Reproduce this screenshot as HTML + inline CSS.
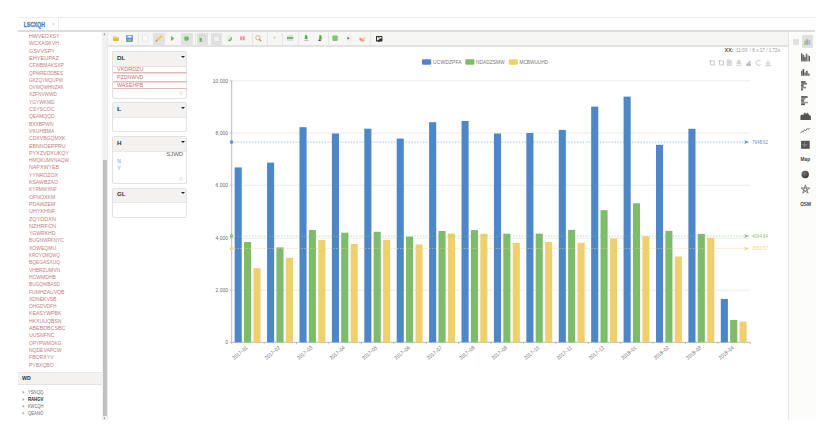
<!DOCTYPE html><html><head><meta charset="utf-8"><style>

*{margin:0;padding:0;box-sizing:border-box}
html,body{width:830px;height:431px;overflow:hidden;background:#fff;font-family:"Liberation Sans",sans-serif}
.a{position:absolute}
.pn{position:absolute;left:112px;width:75px;border:1px solid #e2e2e2;border-radius:2px;background:#fff}
.ph{position:absolute;left:0;top:0;right:0;background:#f3f2f0;border-bottom:1px solid #e8e8e8}
.car{position:absolute;left:68px;width:0;height:0;border-left:2px solid transparent;border-right:2px solid transparent;border-top:2.5px solid #222}
svg{position:absolute;left:0;top:0}

</style></head><body>
<div class="a" style="left:18px;top:17px;width:797px;height:1px;background:#eeeeee"></div>
<div class="a" style="left:18px;top:30.2px;width:797px;height:1.4px;background:#dcdcdc"></div>
<div class="a" style="left:57.5px;top:18px;width:1px;height:12px;background:#ececec"></div>
<div class="a" style="left:18px;top:372px;width:84px;height:12.5px;background:#f3f2f0;border-top:1px solid #e6e6e6;border-bottom:1px solid #e3e3e3"></div>
<div class="a" style="left:102px;top:31.5px;width:5px;height:388.5px;background:#f1f1f1"></div>
<div class="a" style="left:102.5px;top:160.4px;width:4px;height:256px;background:#c1c1c1"></div>
<div class="a" style="left:107px;top:31.5px;width:1px;height:388.5px;background:#ececec"></div>
<div class="a" style="left:107.5px;top:31.5px;width:680px;height:14px;background:#f6f6f5"></div>
<div class="a" style="left:107.5px;top:45.4px;width:680px;height:1.2px;background:#e2e2e2"></div>
<div class="a" style="left:153px;top:33px;width:12.3px;height:11.8px;background:#e2e2e2;border-radius:1px"></div>
<div class="a" style="left:181px;top:33px;width:11.8px;height:11.8px;background:#e2e2e2;border-radius:1px"></div>
<div class="a" style="left:197px;top:33px;width:11.4px;height:11.8px;background:#e2e2e2;border-radius:1px"></div>
<div class="a" style="left:210.5px;top:33px;width:11.0px;height:11.8px;background:#e2e2e2;border-radius:1px"></div>
<div class="a" style="left:138.3px;top:33px;width:0.8px;height:11.5px;background:#e6e6e6"></div>
<div class="a" style="left:194.5px;top:33px;width:0.8px;height:11.5px;background:#e6e6e6"></div>
<div class="a" style="left:251.6px;top:33px;width:0.8px;height:11.5px;background:#e6e6e6"></div>
<div class="a" style="left:267.2px;top:33px;width:0.8px;height:11.5px;background:#e6e6e6"></div>
<div class="a" style="left:282.3px;top:33px;width:0.8px;height:11.5px;background:#e6e6e6"></div>
<div class="a" style="left:298px;top:33px;width:0.8px;height:11.5px;background:#e6e6e6"></div>
<div class="a" style="left:328px;top:33px;width:0.8px;height:11.5px;background:#e6e6e6"></div>
<div class="a" style="left:370.3px;top:33px;width:0.8px;height:11.5px;background:#e6e6e6"></div>
<div class="pn" style="top:51px;height:48.0px"><div class="ph" style="height:14.5px"></div><div class="car" style="top:3.6px"></div></div>
<div class="pn" style="top:102px;height:30.0px"><div class="ph" style="height:14.5px"></div><div class="car" style="top:3.6px"></div></div>
<div class="pn" style="top:136px;height:48.0px"><div class="ph" style="height:14.5px"></div><div class="car" style="top:3.6px"></div></div>
<div class="pn" style="top:188px;height:30.0px"><div class="ph" style="height:13.5px"></div><div class="car" style="top:3.1px"></div></div>
<div class="a" style="left:112.5px;top:65.9px;width:74px;height:0.9px;background:#efdcdc"></div>
<div class="a" style="left:112.5px;top:72.2px;width:74px;height:0.9px;background:#e2b9b9"></div>
<div class="a" style="left:112.5px;top:73.0px;width:74px;height:0.9px;background:#f0dada"></div>
<div class="a" style="left:112.5px;top:80.9px;width:74px;height:0.9px;background:#e2b9b9"></div>
<div class="a" style="left:112.5px;top:81.7px;width:74px;height:0.9px;background:#f0dada"></div>
<div class="a" style="left:112.5px;top:88.3px;width:74px;height:0.9px;background:#e2b9b9"></div>
<div class="a" style="left:179.0px;top:91.0px;width:4.4px;height:4.4px;border:0.7px solid #e4e4e4;border-radius:50%"></div>
<div class="a" style="left:178.9px;top:176.6px;width:4.4px;height:4.4px;border:0.7px solid #e4e4e4;border-radius:50%"></div>
<svg width="830" height="431" viewBox="0 0 830 431" font-family="Liberation Sans, sans-serif"><line x1="231.7" y1="80.8" x2="750.3" y2="80.8" stroke="#e6e6e6" stroke-width="0.8"/><line x1="231.7" y1="133.1" x2="750.3" y2="133.1" stroke="#e6e6e6" stroke-width="0.8"/><line x1="231.7" y1="185.2" x2="750.3" y2="185.2" stroke="#e6e6e6" stroke-width="0.8"/><line x1="231.7" y1="238.2" x2="750.3" y2="238.2" stroke="#e6e6e6" stroke-width="0.8"/><line x1="231.7" y1="290.2" x2="750.3" y2="290.2" stroke="#e6e6e6" stroke-width="0.8"/><line x1="231.7" y1="80.8" x2="231.7" y2="342.3" stroke="#a8a8a8" stroke-width="0.8"/><line x1="231.7" y1="342.3" x2="750.3" y2="342.3" stroke="#a8a8a8" stroke-width="0.8"/><line x1="231.70" y1="342.3" x2="231.70" y2="344.3" stroke="#a8a8a8" stroke-width="0.7"/><line x1="264.11" y1="342.3" x2="264.11" y2="344.3" stroke="#a8a8a8" stroke-width="0.7"/><line x1="296.52" y1="342.3" x2="296.52" y2="344.3" stroke="#a8a8a8" stroke-width="0.7"/><line x1="328.93" y1="342.3" x2="328.93" y2="344.3" stroke="#a8a8a8" stroke-width="0.7"/><line x1="361.34" y1="342.3" x2="361.34" y2="344.3" stroke="#a8a8a8" stroke-width="0.7"/><line x1="393.75" y1="342.3" x2="393.75" y2="344.3" stroke="#a8a8a8" stroke-width="0.7"/><line x1="426.16" y1="342.3" x2="426.16" y2="344.3" stroke="#a8a8a8" stroke-width="0.7"/><line x1="458.57" y1="342.3" x2="458.57" y2="344.3" stroke="#a8a8a8" stroke-width="0.7"/><line x1="490.98" y1="342.3" x2="490.98" y2="344.3" stroke="#a8a8a8" stroke-width="0.7"/><line x1="523.39" y1="342.3" x2="523.39" y2="344.3" stroke="#a8a8a8" stroke-width="0.7"/><line x1="555.80" y1="342.3" x2="555.80" y2="344.3" stroke="#a8a8a8" stroke-width="0.7"/><line x1="588.21" y1="342.3" x2="588.21" y2="344.3" stroke="#a8a8a8" stroke-width="0.7"/><line x1="620.62" y1="342.3" x2="620.62" y2="344.3" stroke="#a8a8a8" stroke-width="0.7"/><line x1="653.03" y1="342.3" x2="653.03" y2="344.3" stroke="#a8a8a8" stroke-width="0.7"/><line x1="685.44" y1="342.3" x2="685.44" y2="344.3" stroke="#a8a8a8" stroke-width="0.7"/><line x1="717.85" y1="342.3" x2="717.85" y2="344.3" stroke="#a8a8a8" stroke-width="0.7"/><line x1="750.26" y1="342.3" x2="750.26" y2="344.3" stroke="#a8a8a8" stroke-width="0.7"/><line x1="229.7" y1="80.8" x2="231.7" y2="80.8" stroke="#a8a8a8" stroke-width="0.7"/><line x1="229.7" y1="133.1" x2="231.7" y2="133.1" stroke="#a8a8a8" stroke-width="0.7"/><line x1="229.7" y1="185.2" x2="231.7" y2="185.2" stroke="#a8a8a8" stroke-width="0.7"/><line x1="229.7" y1="238.2" x2="231.7" y2="238.2" stroke="#a8a8a8" stroke-width="0.7"/><line x1="229.7" y1="290.2" x2="231.7" y2="290.2" stroke="#a8a8a8" stroke-width="0.7"/><line x1="229.7" y1="342.3" x2="231.7" y2="342.3" stroke="#a8a8a8" stroke-width="0.7"/><text x="228" y="82.7" text-anchor="end" font-size="5" fill="#6a6a6a">10,000</text><text x="228" y="135.0" text-anchor="end" font-size="5" fill="#6a6a6a">8,000</text><text x="228" y="187.1" text-anchor="end" font-size="5" fill="#6a6a6a">6,000</text><text x="228" y="240.1" text-anchor="end" font-size="5" fill="#6a6a6a">4,000</text><text x="228" y="292.1" text-anchor="end" font-size="5" fill="#6a6a6a">2,000</text><text x="228" y="344.2" text-anchor="end" font-size="5" fill="#6a6a6a">0</text><rect x="234.65" y="167.4" width="7.1" height="174.90" fill="#4d87c7"/><rect x="244.00" y="242.0" width="7.1" height="100.30" fill="#7ebc6b"/><rect x="253.45" y="268.2" width="7.1" height="74.10" fill="#efd06e"/><rect x="267.06" y="162.6" width="7.1" height="179.70" fill="#4d87c7"/><rect x="276.41" y="247.4" width="7.1" height="94.90" fill="#7ebc6b"/><rect x="285.86" y="257.8" width="7.1" height="84.50" fill="#efd06e"/><rect x="299.47" y="127.2" width="7.1" height="215.10" fill="#4d87c7"/><rect x="308.82" y="230.0" width="7.1" height="112.30" fill="#7ebc6b"/><rect x="318.27" y="239.9" width="7.1" height="102.40" fill="#efd06e"/><rect x="331.88" y="133.5" width="7.1" height="208.80" fill="#4d87c7"/><rect x="341.23" y="232.7" width="7.1" height="109.60" fill="#7ebc6b"/><rect x="350.68" y="243.9" width="7.1" height="98.40" fill="#efd06e"/><rect x="364.29" y="128.7" width="7.1" height="213.60" fill="#4d87c7"/><rect x="373.64" y="231.8" width="7.1" height="110.50" fill="#7ebc6b"/><rect x="383.09" y="239.9" width="7.1" height="102.40" fill="#efd06e"/><rect x="396.70" y="138.6" width="7.1" height="203.70" fill="#4d87c7"/><rect x="406.05" y="236.6" width="7.1" height="105.70" fill="#7ebc6b"/><rect x="415.50" y="244.5" width="7.1" height="97.80" fill="#efd06e"/><rect x="429.11" y="122.2" width="7.1" height="220.10" fill="#4d87c7"/><rect x="438.46" y="231.0" width="7.1" height="111.30" fill="#7ebc6b"/><rect x="447.91" y="233.5" width="7.1" height="108.80" fill="#efd06e"/><rect x="461.52" y="121.0" width="7.1" height="221.30" fill="#4d87c7"/><rect x="470.87" y="230.1" width="7.1" height="112.20" fill="#7ebc6b"/><rect x="480.32" y="233.7" width="7.1" height="108.60" fill="#efd06e"/><rect x="493.93" y="133.5" width="7.1" height="208.80" fill="#4d87c7"/><rect x="503.28" y="233.7" width="7.1" height="108.60" fill="#7ebc6b"/><rect x="512.73" y="242.8" width="7.1" height="99.50" fill="#efd06e"/><rect x="526.34" y="133.0" width="7.1" height="209.30" fill="#4d87c7"/><rect x="535.69" y="233.6" width="7.1" height="108.70" fill="#7ebc6b"/><rect x="545.14" y="242.0" width="7.1" height="100.30" fill="#efd06e"/><rect x="558.75" y="129.9" width="7.1" height="212.40" fill="#4d87c7"/><rect x="568.10" y="229.9" width="7.1" height="112.40" fill="#7ebc6b"/><rect x="577.55" y="242.8" width="7.1" height="99.50" fill="#efd06e"/><rect x="591.16" y="106.6" width="7.1" height="235.70" fill="#4d87c7"/><rect x="600.51" y="210.2" width="7.1" height="132.10" fill="#7ebc6b"/><rect x="609.96" y="238.4" width="7.1" height="103.90" fill="#efd06e"/><rect x="623.57" y="96.6" width="7.1" height="245.70" fill="#4d87c7"/><rect x="632.92" y="203.3" width="7.1" height="139.00" fill="#7ebc6b"/><rect x="642.37" y="236.3" width="7.1" height="106.00" fill="#efd06e"/><rect x="655.98" y="144.8" width="7.1" height="197.50" fill="#4d87c7"/><rect x="665.33" y="230.9" width="7.1" height="111.40" fill="#7ebc6b"/><rect x="674.78" y="256.5" width="7.1" height="85.80" fill="#efd06e"/><rect x="688.39" y="128.8" width="7.1" height="213.50" fill="#4d87c7"/><rect x="697.74" y="233.9" width="7.1" height="108.40" fill="#7ebc6b"/><rect x="707.19" y="237.8" width="7.1" height="104.50" fill="#efd06e"/><rect x="720.80" y="298.9" width="7.1" height="43.40" fill="#4d87c7"/><rect x="730.15" y="319.9" width="7.1" height="22.40" fill="#7ebc6b"/><rect x="739.60" y="321.6" width="7.1" height="20.70" fill="#efd06e"/><line x1="231.7" y1="142.1" x2="744" y2="142.1" stroke="#5b93d3" stroke-width="0.9" stroke-dasharray="1.5,1.4" opacity="0.6"/><circle cx="231.5" cy="142.1" r="1.8" fill="#5b93d3"/><path d="M744 140.2 L749.3 142.1 L744 144.0 L745.3 142.1 Z" fill="#5b93d3"/><text x="752" y="143.8" font-size="4.9" fill="#5b93d3" textLength="16" lengthAdjust="spacingAndGlyphs">7648.62</text><line x1="231.7" y1="236.1" x2="744" y2="236.1" stroke="#8cc47c" stroke-width="0.9" stroke-dasharray="1.5,1.4" opacity="0.6"/><circle cx="231.5" cy="236.1" r="1.8" fill="#8cc47c"/><path d="M744 234.2 L749.3 236.1 L744 238.0 L745.3 236.1 Z" fill="#8cc47c"/><text x="752" y="237.8" font-size="4.9" fill="#8cc47c" textLength="16" lengthAdjust="spacingAndGlyphs">4064.64</text><line x1="231.7" y1="248.5" x2="744" y2="248.5" stroke="#f0d586" stroke-width="0.9" stroke-dasharray="1.5,1.4" opacity="0.6"/><circle cx="231.5" cy="248.5" r="1.8" fill="#f0d586"/><path d="M744 246.6 L749.3 248.5 L744 250.4 L745.3 248.5 Z" fill="#f0d586"/><text x="752" y="250.2" font-size="4.9" fill="#f0d586" textLength="16" lengthAdjust="spacingAndGlyphs">3583.57</text><text x="248.10" y="348.4" text-anchor="end" font-size="5.3" fill="#6a6a6a" textLength="18" lengthAdjust="spacingAndGlyphs" transform="rotate(-40 248.10 348.4)">2017&#8211;01</text><text x="280.51" y="348.4" text-anchor="end" font-size="5.3" fill="#6a6a6a" textLength="18" lengthAdjust="spacingAndGlyphs" transform="rotate(-40 280.51 348.4)">2017&#8211;02</text><text x="312.92" y="348.4" text-anchor="end" font-size="5.3" fill="#6a6a6a" textLength="18" lengthAdjust="spacingAndGlyphs" transform="rotate(-40 312.92 348.4)">2017&#8211;03</text><text x="345.33" y="348.4" text-anchor="end" font-size="5.3" fill="#6a6a6a" textLength="18" lengthAdjust="spacingAndGlyphs" transform="rotate(-40 345.33 348.4)">2017&#8211;04</text><text x="377.74" y="348.4" text-anchor="end" font-size="5.3" fill="#6a6a6a" textLength="18" lengthAdjust="spacingAndGlyphs" transform="rotate(-40 377.74 348.4)">2017&#8211;05</text><text x="410.15" y="348.4" text-anchor="end" font-size="5.3" fill="#6a6a6a" textLength="18" lengthAdjust="spacingAndGlyphs" transform="rotate(-40 410.15 348.4)">2017&#8211;06</text><text x="442.56" y="348.4" text-anchor="end" font-size="5.3" fill="#6a6a6a" textLength="18" lengthAdjust="spacingAndGlyphs" transform="rotate(-40 442.56 348.4)">2017&#8211;07</text><text x="474.97" y="348.4" text-anchor="end" font-size="5.3" fill="#6a6a6a" textLength="18" lengthAdjust="spacingAndGlyphs" transform="rotate(-40 474.97 348.4)">2017&#8211;08</text><text x="507.38" y="348.4" text-anchor="end" font-size="5.3" fill="#6a6a6a" textLength="18" lengthAdjust="spacingAndGlyphs" transform="rotate(-40 507.38 348.4)">2017&#8211;09</text><text x="539.79" y="348.4" text-anchor="end" font-size="5.3" fill="#6a6a6a" textLength="18" lengthAdjust="spacingAndGlyphs" transform="rotate(-40 539.79 348.4)">2017&#8211;10</text><text x="572.21" y="348.4" text-anchor="end" font-size="5.3" fill="#6a6a6a" textLength="18" lengthAdjust="spacingAndGlyphs" transform="rotate(-40 572.21 348.4)">2017&#8211;11</text><text x="604.62" y="348.4" text-anchor="end" font-size="5.3" fill="#6a6a6a" textLength="18" lengthAdjust="spacingAndGlyphs" transform="rotate(-40 604.62 348.4)">2017&#8211;12</text><text x="637.02" y="348.4" text-anchor="end" font-size="5.3" fill="#6a6a6a" textLength="18" lengthAdjust="spacingAndGlyphs" transform="rotate(-40 637.02 348.4)">2018&#8211;01</text><text x="669.44" y="348.4" text-anchor="end" font-size="5.3" fill="#6a6a6a" textLength="18" lengthAdjust="spacingAndGlyphs" transform="rotate(-40 669.44 348.4)">2018&#8211;02</text><text x="701.85" y="348.4" text-anchor="end" font-size="5.3" fill="#6a6a6a" textLength="18" lengthAdjust="spacingAndGlyphs" transform="rotate(-40 701.85 348.4)">2018&#8211;03</text><text x="734.25" y="348.4" text-anchor="end" font-size="5.3" fill="#6a6a6a" textLength="18" lengthAdjust="spacingAndGlyphs" transform="rotate(-40 734.25 348.4)">2018&#8211;04</text><rect x="422" y="59.3" width="9.2" height="5.4" rx="1.3" fill="#4d87c7"/><rect x="465.3" y="59.3" width="9.2" height="5.4" rx="1.3" fill="#7ebc6b"/><rect x="508.7" y="59.3" width="9.2" height="5.4" rx="1.3" fill="#efd06e"/></svg>
<div class="a" style="left:787.7px;top:31.5px;width:28px;height:388.5px;background:#fcfcfb;border-left:1px solid #e6e6e6"></div>
<div class="a" style="left:793px;top:38.5px;width:5.7px;height:6px;background:#e2e2e2"></div>
<div class="a" style="left:801.8px;top:35.3px;width:11.5px;height:12.5px;background:#e0e0e0;border-radius:1px"></div>
<svg class="a" style="left:0;top:0" width="830" height="431" viewBox="0 0 830 431" font-family="Liberation Sans, sans-serif"><path d="M113.1 36.3 h2.2 l0.6 0.7 h2.8 v3.9 h-5.6 z" fill="#efcd62"/><path d="M113.1 38.6 h5.6 v2.3 h-5.6z" fill="#e6b73a"/><rect x="126.1" y="35.1" width="6.8" height="6.8" rx="0.9" fill="#5b8fd6"/><rect x="127.4" y="35.6" width="4.2" height="2.1" fill="#e8eef8"/><rect x="127.6" y="39" width="3.8" height="2.4" fill="#8cc46c"/><path d="M142.6 35.2 h3.6 l1.6 1.6 v4.6 h-5.2z" fill="#fbfbfb" stroke="#dedede" stroke-width="0.6"/><path d="M155.6 41.6 l0.4 -1.8 l5.2 -4.6 l1.4 1.4 l-5.2 4.6 z" fill="#efc94a"/><path d="M155.6 41.6 l0.4 -1.8 l1.4 1.4 z" fill="#c87a2a"/><path d="M171 36.1 l3.4 2.4 l-3.4 2.4z" fill="#69bd58"/><circle cx="186.4" cy="38.6" r="2.4" fill="#6fc05e"/><path d="M187.6 36 l1.6 2.6 l-1.6 2.4z" fill="#6fc05e"/><rect x="199.6" y="35.8" width="5.6" height="5.8" fill="none" stroke="#c9c9c9" stroke-width="0.5"/><rect x="199.6" y="37.8" width="2.3" height="4" fill="#6db860"/><rect x="213.8" y="36.2" width="5.4" height="5.2" fill="#f2f2f2" stroke="#d2d2d2" stroke-width="0.5"/><path d="M227.3 35.2 h3.6 v5 h-3.6z" fill="#eaeaea"/><path d="M231.8 37 a3 3 0 0 1 -4 4 l0.8 -1.4 a1.6 1.6 0 0 0 1.9 -1.9z" fill="#6bbd5c"/><rect x="239.8" y="35.2" width="5.8" height="5.6" fill="#f1f1f1"/><rect x="240.2" y="36.4" width="4.6" height="3.8" fill="#e59aa2"/><rect x="242.2" y="36.4" width="0.6" height="3.8" fill="#f6dde0"/><rect x="244.8" y="35.6" width="0.8" height="5" fill="#d6e6ef"/><circle cx="257.9" cy="37.7" r="2.2" fill="#eef3f8" stroke="#e2b466" stroke-width="0.9"/><path d="M259.3 39.3 l1.8 1.8" stroke="#c98a3a" stroke-width="1.3"/><path d="M274.6 35.4 l1.2 3.3 h-2.4z" fill="#b9dcb0"/><rect x="287" y="35" width="6.2" height="6" fill="#e0e0e0"/><rect x="287" y="37" width="6.2" height="2" fill="#74b868"/><path d="M305.2 35 h1.8 l0.6 2.8 v1.2 h-3z" fill="#5db352"/><path d="M303.4 41 l2 -1.4 l2 0 l2 1.4z" fill="#c4c4c4"/><path d="M319.4 35 h1.6 l0.8 2.6 v2 h-2.8z" fill="#5db352"/><path d="M318.4 39.6 h2.4 v1.4 h-2.4z" fill="#4a4a4a"/><path d="M321.6 40.8 l0.9 -1.2" stroke="#bbb" stroke-width="0.5"/><rect x="332.4" y="35.4" width="5.2" height="5.5" rx="0.8" fill="#7cc070"/><path d="M334.9 35.4 v5.5 M332.4 38.1 h5.2" stroke="#9bd28e" stroke-width="0.5"/><path d="M338.4 36 v4.6" stroke="#cfcfcf" stroke-width="0.4"/><rect x="346.4" y="34.8" width="5.2" height="6.8" rx="0.6" fill="#efefef"/><path d="M347.6 37 l1.8 1.2 l-1.8 1.2z" fill="#333"/><path d="M359.8 37.5 a2.8 2.8 0 0 0 5 2.6 z" fill="#ef8c8c"/><path d="M361 40.6 l3.8 -3.8 l0.6 0.6 l-3.6 3.8z" fill="#f2cb3f"/><path d="M376 36 h6.4 v5.4 h-2 l-1.4 0.7 l-1 -0.7 h-2z" fill="#2e2e2e"/><path d="M377 37 l4.6 0 l0 1.2 l-4.6 2.4z" fill="#f0f0f0"/><path d="M377.6 36.9 l3.9 2.6" stroke="#2e2e2e" stroke-width="0.6"/><g stroke="#b0b0b0" stroke-width="0.65" fill="none" transform="translate(0,-0.9)"><path d="M710.4 61 v4.8 h4.4 M709.6 61.8 h4.6 v4.4"/><path d="M719.4 61 v4.8 h4.2 M718.8 61.8 h4.6 v4.4"/><path d="M727.2 60.8 h2.8 l1.2 1.2 v4.2 h-4z M727.9 62.4 h2.6 M727.9 63.6 h2.6 M727.9 64.8 h2.6"/><path d="M736.2 64.2 h5.2 M738.8 60.8 l-1.6 2.2 h3.2z M736.4 66.2 h5"/><path d="M746.2 66 h4.8 M746.8 66 v-1.6 M748.3 66 v-2.8 M749.9 66 v-4.4" stroke-width="1.1"/><path d="M760.4 61.8 a2.6 2.6 0 1 0 0.4 3.2"/><path d="M768 60.8 v4.2 M765.6 63.4 l2.4 2.2 l2.4 -2.2 M765 66.6 h6"/></g><rect x="804.2" y="40.6" width="1.9" height="4.3" fill="#8fcf6f"/><rect x="806.3" y="39.2" width="1.9" height="5.7" fill="#ef8a8a"/><rect x="808.4" y="40.2" width="1.9" height="4.7" fill="#8ec3ee"/><rect x="801.1" y="53.2" width="1.20" height="8.20" fill="#505050"/><rect x="802.3" y="54.8" width="1.90" height="6.60" fill="#6a6a6a"/><rect x="804.2" y="56.8" width="1.60" height="4.60" fill="#5a5a5a"/><rect x="805.8" y="53.6" width="1.50" height="7.80" fill="#7a7a7a"/><rect x="807.3" y="55" width="1.40" height="6.40" fill="#9a9a9a"/><rect x="808.7" y="56" width="1.30" height="5.40" fill="#606060"/><rect x="801.1" y="70.9" width="1.20" height="4.80" fill="#5a5a5a"/><rect x="802.5" y="69.2" width="1.70" height="6.50" fill="#505050"/><rect x="804.2" y="72.5" width="1.60" height="3.20" fill="#7a7a7a"/><rect x="805.8" y="70.9" width="1.90" height="4.80" fill="#666"/><rect x="807.7" y="73.5" width="2.00" height="2.20" fill="#777"/><rect x="801.1" y="81.1" width="4.40" height="1.80" fill="#5a5a5a"/><rect x="801.1" y="82.9" width="5.90" height="1.70" fill="#7a7a7a"/><rect x="801.1" y="84.6" width="2.50" height="2.10" fill="#555"/><rect x="801.1" y="86.7" width="4.90" height="1.70" fill="#888"/><rect x="801.1" y="88.4" width="1.80" height="2.10" fill="#555"/><rect x="801.1" y="96.1" width="6.50" height="1.70" fill="#555"/><rect x="801.1" y="97.8" width="4.40" height="1.80" fill="#888"/><rect x="801.1" y="99.6" width="2.90" height="2.10" fill="#5a5a5a"/><rect x="801.1" y="101.7" width="6.80" height="1.70" fill="#999"/><rect x="801.1" y="103.4" width="3.90" height="1.70" fill="#555"/><g fill="#555"><path d="M800.4 119.9 v-4.2 l1.4 -1.2 l1.4 0.6 l1.6 -2.8 l1.4 1.6 l1.4 -1.4 l1.6 2.6 l1.7 1 v3.8z"/></g><path d="M800.5 133.3 L802 131.3 L803 132 L804.6 129.7 L805.6 130.9 L807.2 128.5 L808 129.5 L809.8 128.3" fill="none" stroke="#555" stroke-width="0.75"/><rect x="801.1" y="140.8" width="8.6" height="8" fill="#555"/><path d="M802.2 144.8 h5 M804.6 142 v5" stroke="#8a8a8a" stroke-width="1"/><text x="800.6" y="161.4" font-size="5.4" font-weight="bold" fill="#3f3f3f" textLength="9.6" lengthAdjust="spacingAndGlyphs">Map</text><radialGradient id="sph" cx="0.4" cy="0.35" r="0.7"><stop offset="0" stop-color="#777"/><stop offset="1" stop-color="#333"/></radialGradient><circle cx="805.2" cy="174.5" r="3.7" fill="url(#sph)"/><path d="M805.40 184.80 L808.10 193.12 L801.03 187.98 L809.77 187.98 L802.70 193.12 L805.40 184.80Z" fill="none" stroke="#555" stroke-width="0.7" stroke-linejoin="round"/><text x="800.2" y="205.6" font-size="5.2" font-weight="bold" fill="#3f3f3f" textLength="10.6" lengthAdjust="spacingAndGlyphs">OSM</text></svg>
<svg width="830" height="431" viewBox="0 0 830 431" font-family="Liberation Sans, sans-serif"><text x="23.80" y="26.60" font-size="6.67" fill="#4f7fbf" font-weight="bold" text-anchor="start" textLength="21.0" lengthAdjust="spacingAndGlyphs" stroke="#4f7fbf" stroke-width="0.35">LSCXQH</text><text x="52.00" y="26.00" font-size="4.72" fill="#b9c5d6" font-weight="normal" text-anchor="start">&#215;</text><text x="29.00" y="38.00" font-size="5.42" fill="#bd8084" font-weight="normal" text-anchor="start" textLength="30.5" lengthAdjust="spacingAndGlyphs">HWVEOXSY</text><text x="29.00" y="45.30" font-size="5.42" fill="#bd8084" font-weight="normal" text-anchor="start" textLength="30.0" lengthAdjust="spacingAndGlyphs">WCXASKVH</text><text x="29.00" y="52.60" font-size="5.42" fill="#bd8084" font-weight="normal" text-anchor="start" textLength="26.0" lengthAdjust="spacingAndGlyphs">GSVVSPY</text><text x="29.00" y="59.90" font-size="5.42" fill="#bd8084" font-weight="normal" text-anchor="start" textLength="30.0" lengthAdjust="spacingAndGlyphs">EHYEUPAZ</text><text x="29.00" y="67.20" font-size="5.42" fill="#bd8084" font-weight="normal" text-anchor="start" textLength="34.7" lengthAdjust="spacingAndGlyphs">CFWBMAKSXP</text><text x="29.00" y="74.50" font-size="5.42" fill="#bd8084" font-weight="normal" text-anchor="start" textLength="34.0" lengthAdjust="spacingAndGlyphs">QPWREODBES</text><text x="29.00" y="81.80" font-size="5.42" fill="#bd8084" font-weight="normal" text-anchor="start" textLength="34.0" lengthAdjust="spacingAndGlyphs">GKZQYMQUPW</text><text x="29.00" y="89.10" font-size="5.42" fill="#bd8084" font-weight="normal" text-anchor="start" textLength="34.7" lengthAdjust="spacingAndGlyphs">OVWQWHNZAK</text><text x="29.00" y="96.40" font-size="5.42" fill="#bd8084" font-weight="normal" text-anchor="start" textLength="28.0" lengthAdjust="spacingAndGlyphs">XZFNVWWD</text><text x="29.00" y="103.70" font-size="5.42" fill="#bd8084" font-weight="normal" text-anchor="start" textLength="25.4" lengthAdjust="spacingAndGlyphs">YGYWKMD</text><text x="29.00" y="111.00" font-size="5.42" fill="#bd8084" font-weight="normal" text-anchor="start" textLength="25.4" lengthAdjust="spacingAndGlyphs">CSYSCOC</text><text x="29.00" y="118.30" font-size="5.42" fill="#bd8084" font-weight="normal" text-anchor="start" textLength="25.4" lengthAdjust="spacingAndGlyphs">QEAMQQD</text><text x="29.00" y="125.60" font-size="5.42" fill="#bd8084" font-weight="normal" text-anchor="start" textLength="24.5" lengthAdjust="spacingAndGlyphs">BXXBPWN</text><text x="29.00" y="132.90" font-size="5.42" fill="#bd8084" font-weight="normal" text-anchor="start" textLength="25.4" lengthAdjust="spacingAndGlyphs">VKUHBMA</text><text x="29.00" y="140.20" font-size="5.42" fill="#bd8084" font-weight="normal" text-anchor="start" textLength="36.5" lengthAdjust="spacingAndGlyphs">CDXVBGQMXK</text><text x="29.00" y="147.50" font-size="5.42" fill="#bd8084" font-weight="normal" text-anchor="start" textLength="36.5" lengthAdjust="spacingAndGlyphs">EBNNOEPPRU</text><text x="29.00" y="154.80" font-size="5.42" fill="#bd8084" font-weight="normal" text-anchor="start" textLength="40.0" lengthAdjust="spacingAndGlyphs">PYXZVDXUKQY</text><text x="29.00" y="162.10" font-size="5.42" fill="#bd8084" font-weight="normal" text-anchor="start" textLength="40.0" lengthAdjust="spacingAndGlyphs">HMQKUMVNAQW</text><text x="29.00" y="169.40" font-size="5.42" fill="#bd8084" font-weight="normal" text-anchor="start" textLength="30.0" lengthAdjust="spacingAndGlyphs">NAPXWYEB</text><text x="29.00" y="176.70" font-size="5.42" fill="#bd8084" font-weight="normal" text-anchor="start" textLength="29.0" lengthAdjust="spacingAndGlyphs">YYNROZOX</text><text x="29.00" y="184.00" font-size="5.42" fill="#bd8084" font-weight="normal" text-anchor="start" textLength="29.0" lengthAdjust="spacingAndGlyphs">KSAWBZAO</text><text x="29.00" y="191.30" font-size="5.42" fill="#bd8084" font-weight="normal" text-anchor="start" textLength="28.0" lengthAdjust="spacingAndGlyphs">KYRMWXNF</text><text x="29.00" y="198.60" font-size="5.42" fill="#bd8084" font-weight="normal" text-anchor="start" textLength="26.3" lengthAdjust="spacingAndGlyphs">OFNOXKM</text><text x="29.00" y="205.90" font-size="5.42" fill="#bd8084" font-weight="normal" text-anchor="start" textLength="26.3" lengthAdjust="spacingAndGlyphs">PDAWZEM</text><text x="29.00" y="213.20" font-size="5.42" fill="#bd8084" font-weight="normal" text-anchor="start" textLength="26.3" lengthAdjust="spacingAndGlyphs">UHYKHNF</text><text x="29.00" y="220.50" font-size="5.42" fill="#bd8084" font-weight="normal" text-anchor="start" textLength="27.0" lengthAdjust="spacingAndGlyphs">ZQYDDXN</text><text x="29.00" y="227.80" font-size="5.42" fill="#bd8084" font-weight="normal" text-anchor="start" textLength="27.0" lengthAdjust="spacingAndGlyphs">NZHRFCN</text><text x="29.00" y="235.10" font-size="5.42" fill="#bd8084" font-weight="normal" text-anchor="start" textLength="26.3" lengthAdjust="spacingAndGlyphs">YGWRKHD</text><text x="29.00" y="242.40" font-size="5.42" fill="#bd8084" font-weight="normal" text-anchor="start" textLength="34.7" lengthAdjust="spacingAndGlyphs">BUGNWFKNYC</text><text x="29.00" y="249.70" font-size="5.42" fill="#bd8084" font-weight="normal" text-anchor="start" textLength="27.0" lengthAdjust="spacingAndGlyphs">XOWEQMU</text><text x="29.00" y="257.00" font-size="5.42" fill="#bd8084" font-weight="normal" text-anchor="start" textLength="31.0" lengthAdjust="spacingAndGlyphs">KROYQMQWQ</text><text x="29.00" y="264.30" font-size="5.42" fill="#bd8084" font-weight="normal" text-anchor="start" textLength="31.0" lengthAdjust="spacingAndGlyphs">BQEGASXUQ</text><text x="29.00" y="271.60" font-size="5.42" fill="#bd8084" font-weight="normal" text-anchor="start" textLength="31.0" lengthAdjust="spacingAndGlyphs">VHBRZUMVN</text><text x="29.00" y="278.90" font-size="5.42" fill="#bd8084" font-weight="normal" text-anchor="start" textLength="27.0" lengthAdjust="spacingAndGlyphs">HCWMDHB</text><text x="29.00" y="286.20" font-size="5.42" fill="#bd8084" font-weight="normal" text-anchor="start" textLength="31.0" lengthAdjust="spacingAndGlyphs">BUGQWBASD</text><text x="29.00" y="293.50" font-size="5.42" fill="#bd8084" font-weight="normal" text-anchor="start" textLength="35.4" lengthAdjust="spacingAndGlyphs">FUMHZAUVQB</text><text x="29.00" y="300.80" font-size="5.42" fill="#bd8084" font-weight="normal" text-anchor="start" textLength="27.5" lengthAdjust="spacingAndGlyphs">XDNEKVSB</text><text x="29.00" y="308.10" font-size="5.42" fill="#bd8084" font-weight="normal" text-anchor="start" textLength="27.5" lengthAdjust="spacingAndGlyphs">OHGDVDFH</text><text x="29.00" y="315.40" font-size="5.42" fill="#bd8084" font-weight="normal" text-anchor="start" textLength="32.4" lengthAdjust="spacingAndGlyphs">KEASYWPBK</text><text x="29.00" y="322.70" font-size="5.42" fill="#bd8084" font-weight="normal" text-anchor="start" textLength="32.4" lengthAdjust="spacingAndGlyphs">HKXUUQBSN</text><text x="29.00" y="330.00" font-size="5.42" fill="#bd8084" font-weight="normal" text-anchor="start" textLength="36.4" lengthAdjust="spacingAndGlyphs">ABEBDBCSBC</text><text x="29.00" y="337.30" font-size="5.42" fill="#bd8084" font-weight="normal" text-anchor="start" textLength="25.5" lengthAdjust="spacingAndGlyphs">UUSNFNC</text><text x="29.00" y="344.60" font-size="5.42" fill="#bd8084" font-weight="normal" text-anchor="start" textLength="32.4" lengthAdjust="spacingAndGlyphs">OPYPWMOKG</text><text x="29.00" y="351.90" font-size="5.42" fill="#bd8084" font-weight="normal" text-anchor="start" textLength="32.4" lengthAdjust="spacingAndGlyphs">NQDEVAPCW</text><text x="29.00" y="359.20" font-size="5.42" fill="#bd8084" font-weight="normal" text-anchor="start" textLength="24.6" lengthAdjust="spacingAndGlyphs">FBORXYV</text><text x="29.00" y="366.50" font-size="5.42" fill="#bd8084" font-weight="normal" text-anchor="start" textLength="24.6" lengthAdjust="spacingAndGlyphs">PYBXQBO</text><text x="22.00" y="380.30" font-size="5.00" fill="#333" font-weight="bold" text-anchor="start" textLength="8.7" lengthAdjust="spacingAndGlyphs">WD</text><path d="M22.6 390.80 L24.6 392.30 L22.6 393.80Z" fill="#a5a5a5"/><text x="27.90" y="394.10" font-size="5.00" fill="#6c6c6c" font-weight="normal" text-anchor="start" textLength="15.5" lengthAdjust="spacingAndGlyphs">YSNQQ</text><path d="M22.6 398.10 L24.6 399.60 L22.6 401.10Z" fill="#a5a5a5"/><text x="27.90" y="401.40" font-size="5.00" fill="#2a2a2a" font-weight="bold" text-anchor="start" textLength="15.5" lengthAdjust="spacingAndGlyphs">RAHGV</text><path d="M22.6 404.70 L24.6 406.20 L22.6 407.70Z" fill="#a5a5a5"/><text x="27.90" y="408.00" font-size="5.00" fill="#6c6c6c" font-weight="normal" text-anchor="start" textLength="15.5" lengthAdjust="spacingAndGlyphs">KWCQH</text><path d="M22.6 411.70 L24.6 413.20 L22.6 414.70Z" fill="#a5a5a5"/><text x="27.90" y="415.00" font-size="5.00" fill="#6c6c6c" font-weight="normal" text-anchor="start" textLength="15.5" lengthAdjust="spacingAndGlyphs">QEANO</text><path d="M103.5 35.1 L104.4 33 L105.3 35.1Z" fill="#8a8a8a"/><path d="M103.5 417.4 L104.4 419.4 L105.3 417.4Z" fill="#8a8a8a"/><text x="117.00" y="59.85" font-size="5.28" fill="#333" font-weight="bold" text-anchor="start" textLength="8.4" lengthAdjust="spacingAndGlyphs">DL</text><text x="117.00" y="110.85" font-size="5.28" fill="#333" font-weight="bold" text-anchor="start" textLength="4.5" lengthAdjust="spacingAndGlyphs">L</text><text x="117.00" y="144.85" font-size="5.28" fill="#333" font-weight="bold" text-anchor="start" textLength="4.5" lengthAdjust="spacingAndGlyphs">H</text><text x="117.00" y="196.35" font-size="5.28" fill="#333" font-weight="bold" text-anchor="start" textLength="8.4" lengthAdjust="spacingAndGlyphs">GL</text><text x="117.00" y="71.05" font-size="5.14" fill="#bb7377" font-weight="normal" text-anchor="start" textLength="26.4" lengthAdjust="spacingAndGlyphs">VKDRDZU</text><text x="117.00" y="79.45" font-size="5.14" fill="#bb7377" font-weight="normal" text-anchor="start" textLength="26.4" lengthAdjust="spacingAndGlyphs">PZDNWVD</text><text x="117.00" y="87.25" font-size="5.14" fill="#bb7377" font-weight="normal" text-anchor="start" textLength="26.4" lengthAdjust="spacingAndGlyphs">WASEHPB</text><text x="166.20" y="155.60" font-size="5.00" fill="#666" font-weight="normal" text-anchor="start" textLength="17.0" lengthAdjust="spacingAndGlyphs">SJWD</text><text x="117.30" y="162.60" font-size="5.00" fill="#6b8fc4" font-weight="normal" text-anchor="start" textLength="3.6" lengthAdjust="spacingAndGlyphs">N</text><text x="117.30" y="170.20" font-size="5.00" fill="#6b8fc4" font-weight="normal" text-anchor="start" textLength="3.6" lengthAdjust="spacingAndGlyphs">Y</text><text x="433.10" y="63.70" font-size="4.72" fill="#777" font-weight="normal" text-anchor="start" textLength="28.5" lengthAdjust="spacingAndGlyphs">UCWDZPFA</text><text x="476.10" y="63.70" font-size="4.72" fill="#777" font-weight="normal" text-anchor="start" textLength="28.5" lengthAdjust="spacingAndGlyphs">NDADZSMW</text><text x="519.50" y="63.70" font-size="4.72" fill="#777" font-weight="normal" text-anchor="start" textLength="28.5" lengthAdjust="spacingAndGlyphs">MCBWUUHD</text><text x="724.60" y="51.80" font-size="4.72" fill="#555" font-weight="bold" text-anchor="start" textLength="9.0" lengthAdjust="spacingAndGlyphs">XX:</text><text x="736.00" y="51.70" font-size="4.44" fill="#999" font-weight="normal" text-anchor="start" textLength="44.0" lengthAdjust="spacingAndGlyphs">11:00 &#160;/ 6 x 17 / 1.72s</text></svg>
</body></html>
